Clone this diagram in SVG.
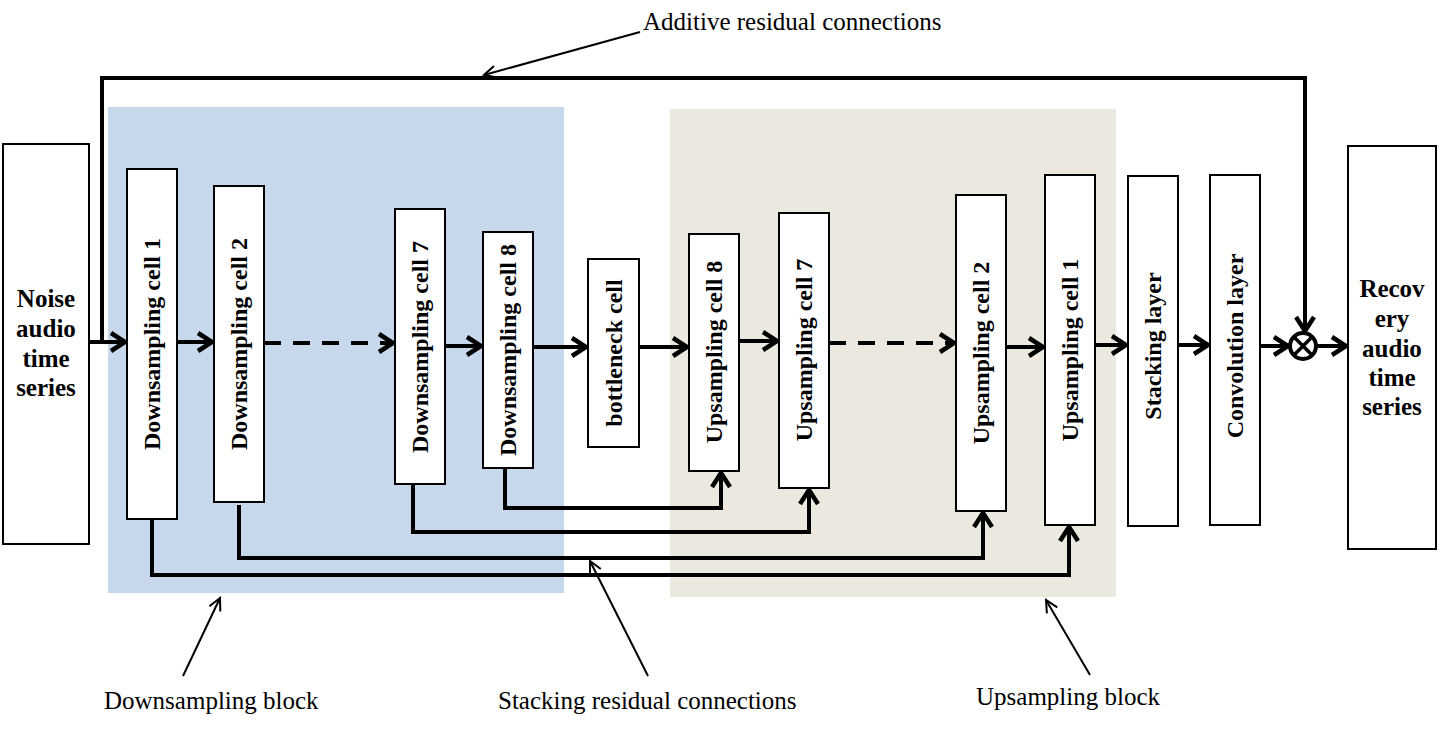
<svg xmlns="http://www.w3.org/2000/svg" width="1444" height="731" viewBox="0 0 1444 731">
<defs>
<marker id="ah" markerUnits="userSpaceOnUse" markerWidth="24" markerHeight="24" viewBox="-18 -12 22 24" refX="0" refY="0" orient="auto">
<path d="M-15,-9 L-1,0 L-15,9" fill="none" stroke="#000" stroke-width="4.5"/>
</marker>
<marker id="th" markerUnits="userSpaceOnUse" markerWidth="20" markerHeight="20" viewBox="-14 -10 18 20" refX="0" refY="0" orient="auto">
<path d="M-12,-6 L0,0 L-12,6" fill="none" stroke="#000" stroke-width="2"/>
</marker>
<style>
.box{fill:#fff;stroke:#000;stroke-width:2}
.lbl{font-family:"Liberation Serif","Times New Roman",serif;font-weight:bold;font-size:24px;fill:#000}
.big{font-size:25px}
.ann{font-family:"Liberation Serif","Times New Roman",serif;font-size:25px;fill:#000}
.c{fill:none;stroke:#000;stroke-width:4}
.ca{fill:none;stroke:#000;stroke-width:4;marker-end:url(#ah)}
.d{stroke-dasharray:17 12}
.t{fill:none;stroke:#000;stroke-width:2;marker-end:url(#th)}
</style>
</defs>
<rect width="1444" height="731" fill="#fff"/>
<g id="blocks">
<rect id="down-block" x="108" y="107" width="456" height="486" fill="#c8d8ec"/>
<rect id="up-block" x="670" y="109" width="446" height="488" fill="#ebe9df"/>
</g>
<g id="connectors">
<path class="ca" d="M89,342 L126,342"/>
<path class="ca" d="M102,342 L102,78 L1305,78 L1305,332"/>
<path class="ca" d="M177,342 L213,342"/>
<path class="ca d" d="M264,343 L394,343"/>
<path class="ca" d="M445,346 L482,346"/>
<path class="ca" d="M533,347 L587,347"/>
<path class="ca" d="M639,347 L688,347"/>
<path class="ca" d="M739,341 L778,341"/>
<path class="ca d" d="M829,343 L955,343"/>
<path class="ca" d="M1006,347 L1044,347"/>
<path class="ca" d="M1095,345 L1127,345"/>
<path class="ca" d="M1178,345 L1209,345"/>
<path class="ca" d="M1260,346 L1289,346"/>
<path class="ca" d="M1316,346 L1347,346"/>
<path class="ca" d="M505,468 L505,508 L721,508 L721,472"/>
<path class="ca" d="M413,484 L413,532 L809,532 L809,489"/>
<path class="ca" d="M239,505 L239,558 L983,558 L983,512"/>
<path class="ca" d="M152,519 L152,575 L1069,575 L1069,526"/>
<path class="t" d="M640,32 L484,75"/>
<path class="t" d="M183,676 L220,598"/>
<path class="t" d="M648,676 L590,561"/>
<path class="t" d="M1090,675 L1046,600"/>
</g>
<g id="sum">
<circle cx="1303" cy="346" r="13" fill="#fff" stroke="#000" stroke-width="4"/>
<path d="M1294,337 L1312,355 M1312,337 L1294,355" stroke="#000" stroke-width="3.5"/>
</g>
<g id="noise">
<rect class="box" x="3" y="144" width="86" height="400"/>
<text class="lbl big" text-anchor="middle" x="46" y="307">Noise</text>
<text class="lbl big" text-anchor="middle" x="46" y="337">audio</text>
<text class="lbl big" text-anchor="middle" x="46" y="367">time</text>
<text class="lbl big" text-anchor="middle" x="46" y="396">series</text>
</g>
<g id="down1"><rect class="box" x="127" y="169" width="50" height="350"/><text class="lbl" text-anchor="middle" transform="translate(160,344) rotate(-90)">Downsampling cell 1</text></g>
<g id="down2"><rect class="box" x="214" y="186" width="50" height="316"/><text class="lbl" text-anchor="middle" transform="translate(247,344) rotate(-90)">Downsampling cell 2</text></g>
<g id="down7"><rect class="box" x="395" y="209" width="50" height="275"/><text class="lbl" text-anchor="middle" transform="translate(428,347) rotate(-90)">Downsampling cell 7</text></g>
<g id="down8"><rect class="box" x="483" y="232" width="50" height="236"/><text class="lbl" text-anchor="middle" transform="translate(516,350) rotate(-90)">Downsampling cell 8</text></g>
<g id="bottleneck"><rect class="box" x="588" y="259" width="51" height="188"/><text class="lbl" text-anchor="middle" transform="translate(622,353) rotate(-90)">bottleneck cell</text></g>
<g id="up8"><rect class="box" x="689" y="234" width="50" height="237"/><text class="lbl" text-anchor="middle" transform="translate(722,352) rotate(-90)">Upsampling cell 8</text></g>
<g id="up7"><rect class="box" x="779" y="213" width="50" height="275"/><text class="lbl" text-anchor="middle" transform="translate(812,350) rotate(-90)">Upsampling cell 7</text></g>
<g id="up2"><rect class="box" x="956" y="195" width="50" height="316"/><text class="lbl" text-anchor="middle" transform="translate(989,353) rotate(-90)">Upsampling cell 2</text></g>
<g id="up1"><rect class="box" x="1045" y="175" width="50" height="350"/><text class="lbl" text-anchor="middle" transform="translate(1078,350) rotate(-90)">Upsampling cell 1</text></g>
<g id="stacking"><rect class="box" x="1128" y="176" width="50" height="350"/><text class="lbl" text-anchor="middle" transform="translate(1161,346) rotate(-90)">Stacking layer</text></g>
<g id="conv"><rect class="box" x="1210" y="175" width="50" height="350"/><text class="lbl" text-anchor="middle" transform="translate(1243,346) rotate(-90)">Convolution layer</text></g>
<g id="recovery">
<rect class="box" x="1348" y="146" width="88" height="403"/>
<text class="lbl big" text-anchor="middle" x="1392" y="297">Recov</text>
<text class="lbl big" text-anchor="middle" x="1392" y="327">ery</text>
<text class="lbl big" text-anchor="middle" x="1392" y="357">audio</text>
<text class="lbl big" text-anchor="middle" x="1392" y="386">time</text>
<text class="lbl big" text-anchor="middle" x="1392" y="415">series</text>
</g>
<g id="annotations">
<text class="ann" x="643" y="30">Additive residual connections</text>
<text class="ann" x="104" y="709">Downsampling block</text>
<text class="ann" x="498" y="709">Stacking residual connections</text>
<text class="ann" x="976" y="705">Upsampling block</text>
</g>
</svg>
